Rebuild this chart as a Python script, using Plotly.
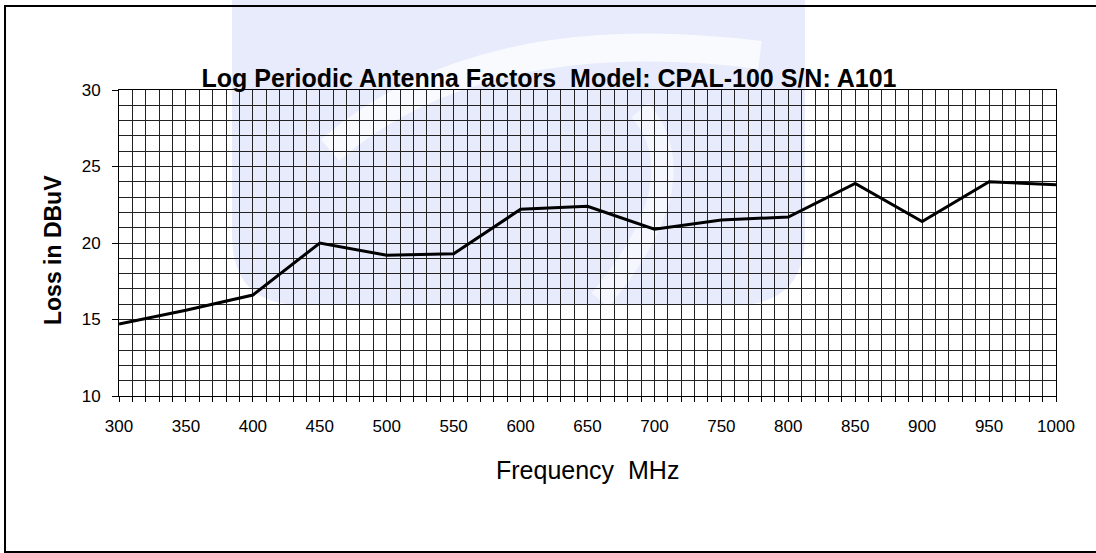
import plotly.graph_objects as go

# ---- data ----
freq_mhz = [300, 350, 400, 450, 500, 550, 600, 650, 700, 750, 800, 850, 900, 950, 1000]
loss_dbuv = [14.7, 15.6, 16.6, 20.0, 19.2, 19.3, 22.2, 22.4, 20.9, 21.5, 21.7, 23.9, 21.4, 24.0, 23.8]
x_tick_vals = [300, 350, 400, 450, 500, 550, 600, 650, 700, 750, 800, 850, 900, 950, 1000]
y_tick_vals = [10, 15, 20, 25, 30]

title_text = "Log Periodic Antenna Factors  Model: CPAL-100 S/N: A101"
x_title = "Frequency  MHz"
y_title = "Loss in DBuV"

W, H = 1096, 553
L, R, T, B = 119, 40, 90, 157
PW, PH = W - L - R, H - T - B

def px(x):
    return (x - L) / PW

def py(y):
    return (H - B - y) / PH

FONT = "Liberation Sans, Arial, sans-serif"

fig = go.Figure()
fig.add_trace(go.Scatter(x=freq_mhz, y=loss_dbuv, mode="lines",
                         line=dict(color="black", width=3), hoverinfo="skip"))

# watermark (pale blue rounded block with a lighter swirl)
x0, x1, y0, y1, r = px(232), px(805), py(-5), py(305), 70
rx, ry = r / PW, r / PH
wm_path = (f"M {x0},{y0} L {x1},{y0} L {x1},{y1+ry} Q {x1},{y1} {x1-rx},{y1} "
           f"L {x0+rx},{y1} Q {x0},{y1} {x0},{y1+ry} Z")
swirl1 = f"M {px(330)},{py(150)} Q {px(480)},{py(20)} {px(760)},{py(55)}"
swirl2 = f"M {px(600)},{py(300)} Q {px(700)},{py(180)} {px(640)},{py(110)}"
shapes = [
    dict(type="path", xref="paper", yref="paper", path=wm_path,
         fillcolor="#e7ebfc", line=dict(width=0), layer="below"),
    dict(type="path", xref="paper", yref="paper", path=swirl1,
         line=dict(color="rgba(255,255,255,0.75)", width=28), layer="below"),
    dict(type="path", xref="paper", yref="paper", path=swirl2,
         line=dict(color="rgba(255,255,255,0.6)", width=22), layer="below"),
    # outer border
    dict(type="rect", xref="paper", yref="paper", x0=px(5), x1=px(1110), y0=py(552), y1=py(6),
         line=dict(color="black", width=2), fillcolor="rgba(0,0,0,0)", layer="above"),
]

fig.update_layout(
    width=W, height=H,
    margin=dict(l=L, r=R, t=T, b=B),
    paper_bgcolor="white",
    plot_bgcolor="rgba(0,0,0,0)",
    showlegend=False,
    font=dict(family=FONT, color="black", size=17),
    title=dict(text=f"<b>{title_text}</b>", x=549 / W, xanchor="center", xref="container",
               y=1 - 78 / H, yanchor="middle", font=dict(size=25, family=FONT, color="black")),
    shapes=shapes,
    annotations=[
        dict(text=x_title, xref="paper", yref="paper", x=0.5, y=py(470), xanchor="center", yanchor="middle",
             showarrow=False, font=dict(size=25, family=FONT, color="black")),
        dict(text=f"<b>{y_title}</b>", xref="paper", yref="paper", x=px(53), y=py(250), xanchor="center",
             yanchor="middle", textangle=-90, showarrow=False, font=dict(size=23, family=FONT, color="black")),
    ],
)

fig.update_xaxes(
    range=[300, 1000], tickmode="array", tickvals=x_tick_vals,
    showgrid=True, gridcolor="#222", gridwidth=1,
    showline=True, linecolor="black", linewidth=1, mirror=True,
    ticks="outside", ticklen=5, tickcolor="black", tickfont=dict(size=17, family=FONT),
    ticklabelstandoff=10,
    minor=dict(dtick=10, showgrid=True, gridcolor="#222", gridwidth=1,
               ticks="outside", ticklen=5, tickcolor="black"),
    zeroline=False,
)
fig.update_yaxes(
    range=[10, 30], tickmode="array", tickvals=y_tick_vals,
    showgrid=True, gridcolor="#222", gridwidth=1,
    showline=True, linecolor="black", linewidth=1, mirror=True,
    ticks="outside", ticklen=6, tickcolor="black", tickfont=dict(size=17, family=FONT),
    ticklabelstandoff=8,
    minor=dict(dtick=1, showgrid=True, gridcolor="#222", gridwidth=1, ticks=""),
    zeroline=False,
)

fig.write_html("out.html", config={"displayModeBar": False, "staticPlot": True},
               post_script="document.body.style.margin='0';document.body.style.overflow='hidden';")
